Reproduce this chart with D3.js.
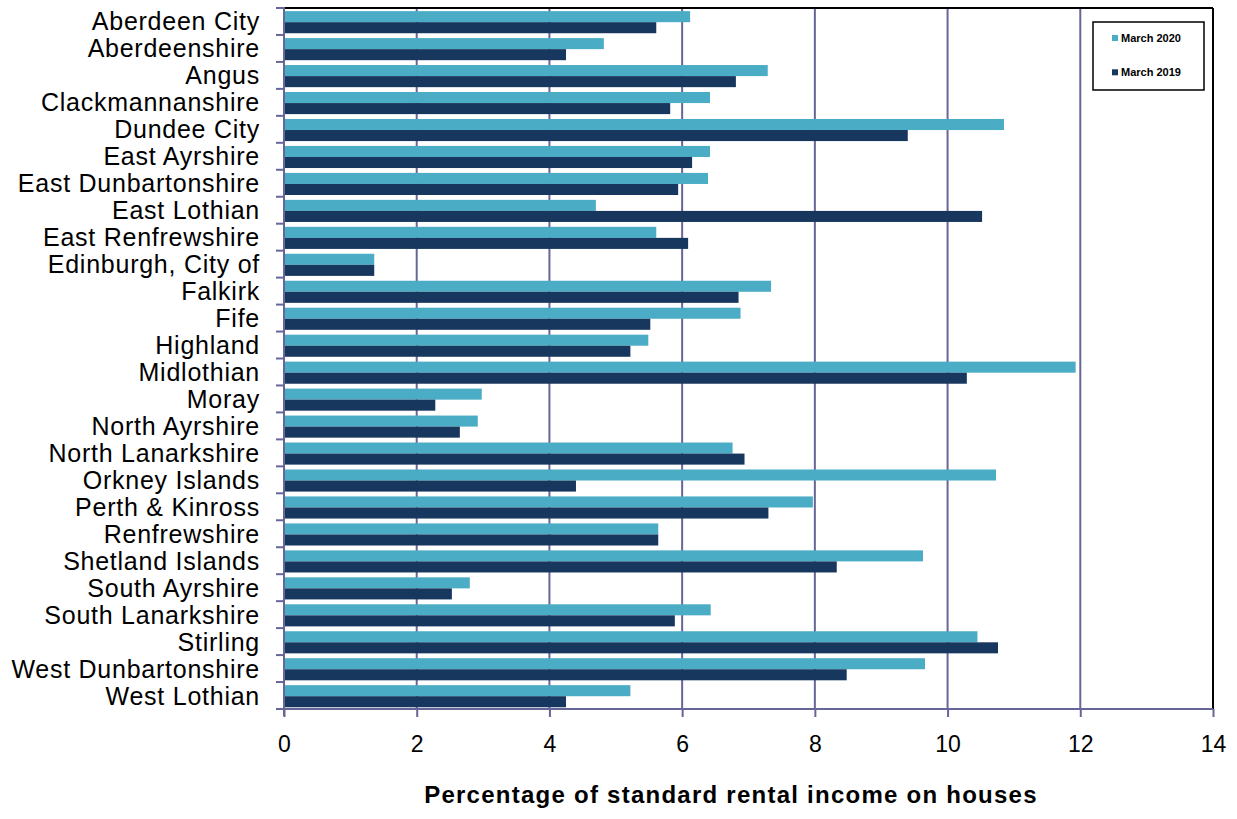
<!DOCTYPE html>
<html>
<head>
<meta charset="utf-8">
<script src="https://cdn.jsdelivr.net/npm/d3@7"></script>
<style>
  html, body { margin: 0; padding: 0; background: #fff; }
  svg { display: block; font-family: "Liberation Sans", Arial, sans-serif; }
</style>
</head>
<body>
<svg id="chart" width="1237" height="819"></svg>
<script>
// Local authorities, top to bottom
const categories = [
  "Aberdeen City", "Aberdeenshire", "Angus", "Clackmannanshire", "Dundee City",
  "East Ayrshire", "East Dunbartonshire", "East Lothian", "East Renfrewshire",
  "Edinburgh, City of", "Falkirk", "Fife", "Highland", "Midlothian", "Moray",
  "North Ayrshire", "North Lanarkshire", "Orkney Islands", "Perth & Kinross",
  "Renfrewshire", "Shetland Islands", "South Ayrshire", "South Lanarkshire",
  "Stirling", "West Dunbartonshire", "West Lothian"
];

// Percentage of standard rental income on houses
const march2020 = [
  6.12, 4.82, 7.29, 6.42, 10.85,
  6.42, 6.39, 4.70, 5.61,
  1.36, 7.34, 6.88, 5.49, 11.93, 2.98,
  2.92, 6.76, 10.73, 7.97,
  5.64, 9.63, 2.80, 6.43,
  10.45, 9.66, 5.22
];
const march2019 = [
  5.61, 4.25, 6.81, 5.82, 9.40,
  6.15, 5.94, 10.52, 6.09,
  1.36, 6.85, 5.52, 5.22, 10.29, 2.28,
  2.65, 6.94, 4.40, 7.30,
  5.64, 8.33, 2.53, 5.89,
  10.76, 8.48, 4.25
];

const seriesNames = ["March 2020", "March 2019"];
const xTicks = [0, 2, 4, 6, 8, 10, 12, 14];
const xTitle = "Percentage of standard rental income on houses";

const colors = { "March 2020": "#4bacc6", "March 2019": "#17375e" };
const gridColor = "#666699";

const svg = d3.select("#chart");
const plot = { left: 284, right: 1213, top: 8, bottom: 709 };

const x = d3.scaleLinear().domain([0, 14]).range([plot.left, plot.right]);
const y = d3.scaleBand().domain(categories).range([plot.top, plot.bottom]);
const sub = d3.scaleBand().domain(seriesNames)
  .range([0, y.bandwidth()]).paddingOuter(0.22).paddingInner(0);

// vertical gridlines
svg.append("g").selectAll("line")
  .data(xTicks.slice(1, -1))
  .join("line")
  .attr("x1", d => x(d)).attr("x2", d => x(d))
  .attr("y1", plot.top).attr("y2", plot.bottom)
  .attr("stroke", gridColor).attr("stroke-width", 2);

// bars
const rows = categories.map((c, i) => ({ c, vals: [
  { s: "March 2020", v: march2020[i] },
  { s: "March 2019", v: march2019[i] }
]}));

const groups = svg.append("g").selectAll("g")
  .data(rows).join("g")
  .attr("transform", d => `translate(0,${y(d.c) + 0.7})`);

groups.selectAll("rect")
  .data(d => d.vals).join("rect")
  .attr("x", x(0))
  .attr("y", d => sub(d.s))
  .attr("width", d => x(d.v) - x(0))
  .attr("height", sub.bandwidth())
  .attr("fill", d => colors[d.s]);

// plot frame: black top and right edges
svg.append("line")
  .attr("x1", plot.left).attr("x2", plot.right)
  .attr("y1", plot.top).attr("y2", plot.top)
  .attr("stroke", "#000").attr("stroke-width", 2);
svg.append("line")
  .attr("x1", plot.right).attr("x2", plot.right)
  .attr("y1", plot.top).attr("y2", plot.bottom)
  .attr("stroke", "#000").attr("stroke-width", 2);

// category axis
const yAxis = d3.axisLeft(y).tickSize(0).tickFormat("");
const yAxisG = svg.append("g")
  .attr("transform", `translate(${plot.left},0)`)
  .call(yAxis);
yAxisG.select(".domain").remove();
svg.append("line")
  .attr("x1", plot.left).attr("x2", plot.left)
  .attr("y1", plot.top - 1).attr("y2", plot.bottom + 7)
  .attr("stroke", gridColor).attr("stroke-width", 2);

// category tick marks at band boundaries
const boundaries = categories.map(c => y(c)).concat([plot.bottom]);
svg.append("g").selectAll("line")
  .data(boundaries).join("line")
  .attr("x1", plot.left - 8).attr("x2", plot.left)
  .attr("y1", d => d).attr("y2", d => d)
  .attr("stroke", gridColor).attr("stroke-width", 2);

// category labels
svg.append("g").selectAll("text")
  .data(categories).join("text")
  .attr("x", 260)
  .attr("y", d => y(d) + y.bandwidth() / 2 + 9)
  .attr("text-anchor", "end")
  .attr("font-size", 25)
  .attr("letter-spacing", 0.75)
  .attr("fill", "#000")
  .text(d => d);

// value axis
const xAxis = d3.axisBottom(x).tickValues(xTicks).tickSize(8).tickFormat(d3.format("d"));
const xAxisG = svg.append("g")
  .attr("transform", `translate(0,${plot.bottom})`)
  .call(xAxis);
xAxisG.select(".domain")
  .attr("stroke", gridColor).attr("stroke-width", 2)
  .attr("d", `M${plot.left},0H${plot.right}`);
xAxisG.selectAll(".tick line").attr("stroke", gridColor).attr("stroke-width", 2);
xAxisG.selectAll(".tick text")
  .attr("y", 43).attr("dy", null)
  .attr("font-size", 23)
  .attr("font-family", "\"Liberation Sans\", Arial, sans-serif")
  .attr("fill", "#000");

// axis title
svg.append("text")
  .attr("x", 731).attr("y", 803)
  .attr("text-anchor", "middle")
  .attr("font-size", 24)
  .attr("font-weight", "bold")
  .attr("letter-spacing", 1.25)
  .text(xTitle);

// legend
const legend = svg.append("g");
legend.append("rect")
  .attr("x", 1093).attr("y", 22)
  .attr("width", 111).attr("height", 68)
  .attr("fill", "#fff").attr("stroke", "#000").attr("stroke-width", 1.5);
const legendItems = legend.selectAll("g")
  .data(seriesNames).join("g")
  .attr("transform", (d, i) => `translate(1112,${35 + i * 34.3})`);
legendItems.append("rect")
  .attr("width", 6).attr("height", 6)
  .attr("fill", d => colors[d]);
legendItems.append("text")
  .attr("x", 9).attr("y", 6.7)
  .attr("font-size", 11).attr("font-weight", "bold")
  .text(d => d);
</script>
</body>
</html>
